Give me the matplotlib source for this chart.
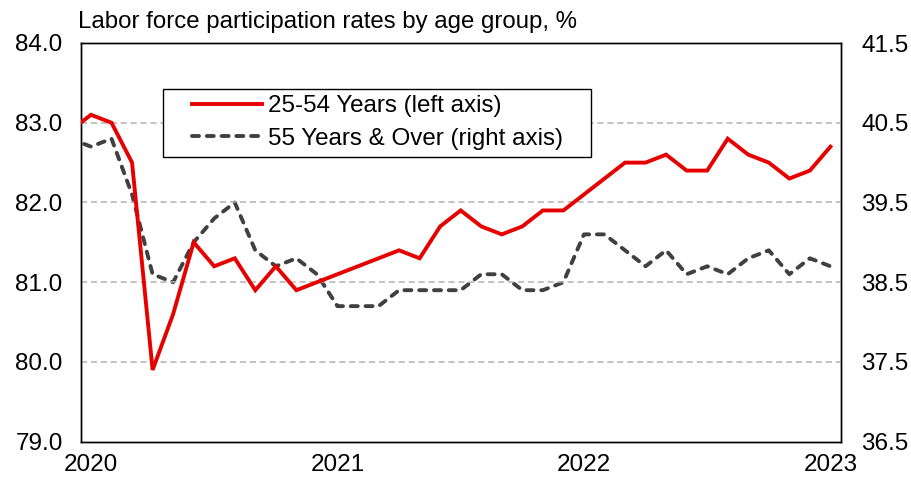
import matplotlib
matplotlib.use("Agg")
import matplotlib.pyplot as plt
from matplotlib.patches import Rectangle
import numpy as np

plt.rcParams['font.family'] = ['Liberation Sans', 'DejaVu Sans']

# monthly, Dec 2019 .. Jan 2023 (Dec 2019 sits just left of the axis and is clipped)
prime_age = [82.9, 83.1, 83.0, 82.5, 79.9, 80.6, 81.5, 81.2, 81.3, 80.9, 81.2, 80.9, 81.0,
             81.1, 81.2, 81.3, 81.4, 81.3, 81.7, 81.9, 81.7, 81.6, 81.7, 81.9, 81.9,
             82.1, 82.3, 82.5, 82.5, 82.6, 82.4, 82.4, 82.8, 82.6, 82.5, 82.3, 82.4,
             82.7]
older = [40.3, 40.2, 40.3, 39.6, 38.6, 38.5, 39.0, 39.3, 39.5, 38.9, 38.7, 38.8, 38.6,
         38.2, 38.2, 38.2, 38.4, 38.4, 38.4, 38.4, 38.6, 38.6, 38.4, 38.4, 38.5,
         39.1, 39.1, 38.9, 38.7, 38.9, 38.6, 38.7, 38.6, 38.8, 38.9, 38.6, 38.8,
         38.7]
year_labels = ['2020', '2021', '2022', '2023']
left_ticks = [79.0, 80.0, 81.0, 82.0, 83.0, 84.0]
right_ticks = [36.5, 37.5, 38.5, 39.5, 40.5, 41.5]

x = np.arange(len(prime_age)) - 1  # Jan 2020 = 0

W, H = 912, 479
fig = plt.figure(figsize=(W / 100, H / 100), dpi=100)
ax = fig.add_axes([80.7 / W, 1 - 441.7 / H, 760 / W, 398.7 / H])
ax2 = ax.twinx()

l1, = ax.plot(x, prime_age, color='#e60000', lw=2.8, solid_joinstyle='miter',
              label='25-54 Years (left axis)', zorder=3)
l2, = ax2.plot(x, older, color='#404040', lw=2.8, linestyle=(0, (1.8, 2.0)),
               dash_capstyle='round', label='55 Years & Over (right axis)', zorder=2)

ax.set_xlim(-0.5, 36.5)
ax.set_ylim(79, 84)
ax2.set_ylim(36.5, 41.5)
ax.set_yticks(left_ticks)
ax.set_yticklabels([f'{v:.1f}' for v in left_ticks])
ax2.set_yticks(right_ticks)
ax2.set_yticklabels([f'{v:.1f}' for v in right_ticks])
ax.set_xticks([0, 12, 24, 36])
ax.set_xticklabels(year_labels)

for a in (ax, ax2):
    a.tick_params(length=0, labelsize=17.5)
    for s in a.spines.values():
        s.set_color('black')
        s.set_linewidth(1.0)
ax.tick_params(axis='y', pad=13)
ax2.tick_params(axis='y', pad=15)
ax.tick_params(axis='x', pad=9)

for v in [80, 81, 82, 83]:
    ax.axhline(v, color='#b3b3b3', lw=1.1, linestyle=(0, (4, 2.5)), zorder=1)

# keep red above grey dashes
ax.set_zorder(ax2.get_zorder() + 1)
ax.patch.set_visible(False)

# legend frame drawn separately (wide left margin as in the original)
fig.patches.append(Rectangle((163.3 / W, 1 - 156.7 / H), 427.4 / W, 67.4 / H,
                             transform=fig.transFigure, facecolor='white',
                             edgecolor='black', lw=1.0, zorder=5))
leg = fig.legend(handles=[l1, l2], loc='center left',
                 bbox_to_anchor=(191.7 / W, 1 - 122.5 / H),
                 bbox_transform=fig.transFigure, fontsize=17.4, frameon=False,
                 handlelength=2.9, handletextpad=0.27, borderpad=0,
                 labelspacing=0.42, borderaxespad=0)
leg.set_zorder(6)

fig.text(78 / W, 1 - 22 / H, 'Labor force participation rates by age group, %',
         fontsize=17.3, ha='left', va='center')

fig.savefig('out.png', dpi=100)
